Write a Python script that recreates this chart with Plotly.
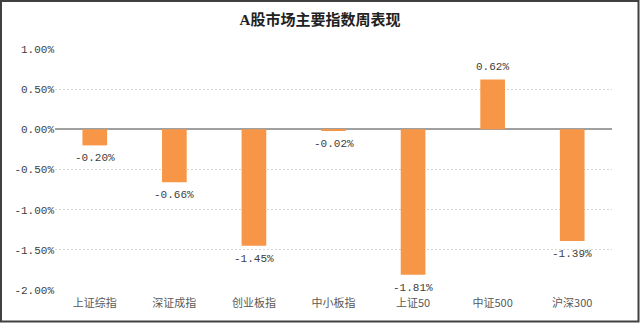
import plotly.graph_objects as go

categories = ["上证综指", "深证成指", "创业板指", "中小板指", "上证50", "中证500", "沪深300"]
values = [-0.20, -0.66, -1.45, -0.02, -1.81, 0.62, -1.39]
tick_vals = [1.0, 0.5, 0.0, -0.5, -1.0, -1.5, -2.0]
tick_text = ["1.00%", "0.50%", "0.00%", "-0.50%", "-1.00%", "-1.50%", "-2.00%"]

W, H = 640, 323
L, R, T, B = 55, 28, 49, 33
pw, ph = W - L - R, H - T - B

fig = go.Figure(go.Bar(
    x=categories, y=values,
    marker=dict(color="#F79646", line=dict(width=0)),
    width=0.31,
    cliponaxis=False,
))

annotations = []
for c, v in zip(categories, values):
    annotations.append(dict(
        x=c, y=v, xref="x", yref="y", text=f"{v:.2f}%", showarrow=False,
        yanchor="bottom" if v >= 0 else "top",
        yshift=5 if v >= 0 else -5,
        font=dict(size=11, color="#404040", family="Liberation Mono, Noto Sans CJK SC"),
    ))

def px_x(p):
    return (p - L) / pw

def px_y(p):
    return (H - B - p) / ph

fig.update_layout(
    width=W, height=H,
    margin=dict(l=L, r=R, t=T, b=B),
    paper_bgcolor="white", plot_bgcolor="white",
    showlegend=False,
    annotations=annotations,
    title=dict(text="<b>A股市场主要指数周表现</b>", x=0.5, xanchor="center", y=1 - 20 / H, yanchor="middle",
               font=dict(size=15, color="#222222", family="Liberation Serif, Noto Sans CJK SC")),
    xaxis=dict(showgrid=False, showline=False, ticks="",
               tickfont=dict(size=11, color="#595959", family="Noto Sans CJK SC"),
               ticklabelstandoff=5),
    yaxis=dict(range=[-2.0, 1.0], tickvals=tick_vals, ticktext=tick_text,
               showgrid=True, gridcolor="#D4D4D4", griddash="2px,2px", gridwidth=1,
               zeroline=True, zerolinecolor="#A0A0A0", zerolinewidth=1.5,
               tickfont=dict(size=11, color="#404040", family="Liberation Mono, Noto Sans CJK SC"),
               ticks="", showline=False),
    shapes=[dict(type="rect", xref="paper", yref="paper",
                 x0=px_x(1), x1=px_x(638.5), y0=px_y(321.5), y1=px_y(1),
                 line=dict(color="#404040", width=2), fillcolor="rgba(0,0,0,0)", layer="above")],
    font=dict(family="Noto Sans CJK SC"),
)

fig.write_html("out.html")
